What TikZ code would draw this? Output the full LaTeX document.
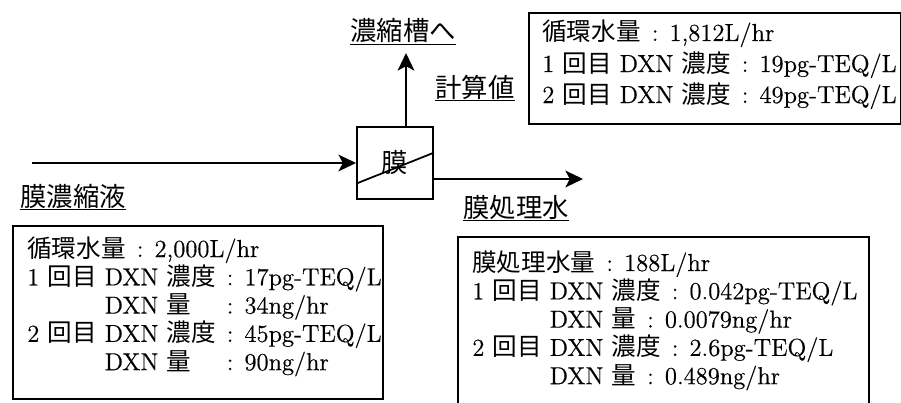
\documentclass[tikz,border=0pt]{standalone}
\usepackage{fontspec}
\setmainfont{Latin Modern Roman}[FakeBold=0.4]
\newfontfamily\jp{Noto Sans CJK JP}
\usetikzlibrary{arrows.meta,calc}
\newcommand{\sep}{\hspace{0.45em}:\hspace{0.45em}}
\newcommand{\inset}[1]{\rlap{\hphantom{1 {\jp 回目} }#1}\hphantom{1 {\jp 回目} DXN {\jp 濃度}}}
\tikzset{
  flow/.style={-{Stealth[length=10pt,width=9.5pt,inset=2.5pt]},line width=1.1pt},
  unitbox/.style={rectangle,draw,line width=1.1pt,minimum width=1.52cm,minimum height=1.44cm,inner sep=0pt,font=\jp\fontsize{15}{17}\selectfont},
  databox/.style={rectangle,draw,line width=1pt,inner sep=0pt,anchor=north west},
  rowtext/.style={anchor=base west,inner sep=0pt,font=\fontsize{14}{16}\selectfont},
  tag/.style={anchor=base,inner sep=0pt,font=\jp\fontsize{15}{17}\selectfont},
  uline/.style={line width=0.8pt}
}
\begin{document}
\begin{tikzpicture}[x=0.02cm,y=-0.02cm]
  \useasboundingbox (0,0) rectangle (901,402);
  % membrane unit
  \node[unitbox] (mem) at (395,163) {膜};
  \draw[line width=1pt] ($(mem.south west)!0.22!(mem.north west)$) -- ($(mem.south east)!0.64!(mem.north east)$);

  % flows
  \coordinate (feedin) at (32,163);
  \coordinate (toconc) at (406,53);
  \coordinate (toperm) at (583,179);
  \draw[flow] (feedin) -- (mem.west);
  \draw[flow] (mem.north -| toconc) -- (toconc);
  \draw[flow] (mem.east |- toperm) -- (toperm);

  % labels
  \node[tag] (tanklbl) at (403,41) {濃縮槽へ};
  \node[tag] (calclbl) at (475,97) {計算値};
  \node[tag] (conclbl) at (73,206) {膜濃縮液};
  \node[tag] (permlbl) at (516,217) {膜処理水};
  \foreach \n in {tanklbl,calclbl,conclbl,permlbl}
    \draw[uline] ([yshift=-2pt]\n.base west) -- ([yshift=-2pt]\n.base east);

  % data boxes
  \node[databox,minimum width=7.44cm,minimum height=2.22cm] (recbox) at (528,12) {};
  \node[databox,minimum width=7.4cm,minimum height=3.46cm] (feedbox) at (12,225) {};
  \node[databox,minimum width=8.22cm,minimum height=3.7cm] (permbox) at (457,236) {};

  \foreach \row [count=\i] in {
    {{\jp 循環水量}\sep 1,812L/hr},
    {1 {\jp 回目} DXN {\jp 濃度}\sep 19pg-TEQ/L},
    {2 {\jp 回目} DXN {\jp 濃度}\sep 49pg-TEQ/L}}
    \node[rowtext] (rec\i) at (542,{41+31*(\i-1)}) {\row};

  \foreach \row [count=\i] in {
    {{\jp 循環水量}\sep 2,000L/hr},
    {1 {\jp 回目} DXN {\jp 濃度}\sep 17pg-TEQ/L},
    {\inset{DXN {\jp 量}}\sep 34ng/hr},
    {2 {\jp 回目} DXN {\jp 濃度}\sep 45pg-TEQ/L},
    {\inset{DXN {\jp 量}}\sep 90ng/hr}}
    \node[rowtext] (feed\i) at (27,{257+28.3*(\i-1)}) {\row};

  \foreach \row [count=\i] in {
    {{\jp 膜処理水量}\sep 188L/hr},
    {1 {\jp 回目} DXN {\jp 濃度}\sep 0.042pg-TEQ/L},
    {\hphantom{1 {\jp 回目} }DXN {\jp 量}\sep 0.0079ng/hr},
    {2 {\jp 回目} DXN {\jp 濃度}\sep 2.6pg-TEQ/L},
    {\hphantom{1 {\jp 回目} }DXN {\jp 量}\sep 0.489ng/hr}}
    \node[rowtext] (perm\i) at (472,{271+28.3*(\i-1)}) {\row};
\end{tikzpicture}
\end{document}
